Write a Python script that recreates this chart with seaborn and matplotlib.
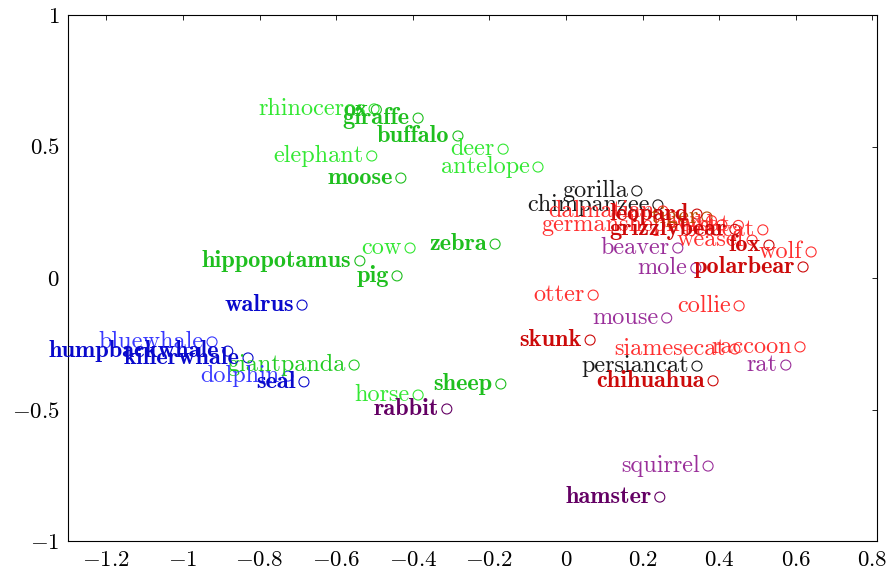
import matplotlib
matplotlib.use("Agg")
import matplotlib.pyplot as plt
from matplotlib.ticker import FuncFormatter
import seaborn as sns
import pandas as pd

# ---- data ----
names = ["rhinoceros", "elephant", "deer", "antelope", "cow", "horse",
         "ox", "giraffe", "buffalo", "moose", "zebra", "hippopotamus", "pig", "giantpanda", "sheep",
         "bluewhale", "dolphin",
         "humpbackwhale", "killerwhale", "seal", "walrus",
         "beaver", "mole", "mouse", "rat", "squirrel",
         "rabbit", "hamster",
         "gorilla", "chimpanzee", "persiancat",
         "otter", "collie", "siamesecat", "raccoon", "dalmatian", "germanshepherd", "bobcat", "bat",
         "weasel", "wolf", "lion",
         "tiger",
         "skunk", "chihuahua", "leopard", "grizzlybear", "fox", "polarbear"]
xs = [-0.501, -0.507, -0.164, -0.073, -0.407, -0.386,
      -0.495, -0.386, -0.282, -0.431, -0.185, -0.538, -0.441, -0.553, -0.170,
      -0.924, -0.726,
      -0.883, -0.830, -0.684, -0.689,
      0.292, 0.339, 0.263, 0.574, 0.371,
      -0.311, 0.245,
      0.185, 0.240, 0.342,
      0.071, 0.452, 0.441, 0.611, 0.253, 0.407, 0.514, 0.450,
      0.486, 0.640, 0.380,
      0.368,
      0.063, 0.384, 0.342, 0.441, 0.530, 0.619]
ys = [0.643, 0.464, 0.490, 0.422, 0.114, -0.445,
      0.640, 0.608, 0.540, 0.380, 0.129, 0.065, 0.008, -0.331, -0.403,
      -0.243, -0.373,
      -0.278, -0.304, -0.395, -0.103,
      0.114, 0.038, -0.152, -0.331, -0.715,
      -0.498, -0.833,
      0.331, 0.278, -0.335,
      -0.065, -0.106, -0.270, -0.262, 0.255, 0.202, 0.183, 0.200,
      0.144, 0.099, 0.218,
      0.232,
      -0.236, -0.391, 0.243, 0.185, 0.125, 0.042]
groups = (["lightgreen"] * 6 + ["darkgreen"] * 7 + ["midgreen"] + ["darkgreen"]
          + ["lightblue"] * 2 + ["darkblue"] * 4
          + ["lightpurple"] * 5 + ["darkpurple"] * 2
          + ["black"] * 3
          + ["lightred"] * 11
          + ["brown"]
          + ["darkred"] * 6)

xticks = [-1.2, -1, -0.8, -0.6, -0.4, -0.2, 0, 0.2, 0.4, 0.6, 0.8]
yticks = [-1, -0.5, 0, 0.5, 1]

# ---- styles ----
palette = {"lightgreen": "#33e833", "darkgreen": "#1fbf1f", "midgreen": "#22cc22",
           "lightblue": "#3838ff", "darkblue": "#0a0acc",
           "lightpurple": "#9a2f9a", "darkpurple": "#640064",
           "black": "#1a1a1a",
           "lightred": "#ff3030", "darkred": "#cc0a0a", "brown": "#b84a00"}
bold_groups = {"darkgreen", "darkblue", "darkpurple", "darkred"}

df = pd.DataFrame({"name": names, "x": xs, "y": ys, "group": groups})

sns.set_theme(style="white")
plt.rcParams["font.family"] = ["cmr10"]
plt.rcParams["mathtext.fontset"] = "cm"
plt.rcParams["axes.formatter.use_mathtext"] = True

fig = plt.figure(figsize=(8.89, 5.72), dpi=100)
ax = fig.add_axes([68 / 889, 31 / 572, (877 - 68) / 889, (557 - 31) / 572])

sns.scatterplot(data=df, x="x", y="y", hue="group", palette=palette, s=52,
                marker="o", linewidth=0.8, legend=False, ax=ax)
coll = ax.collections[0]
fc = coll.get_facecolors()
coll.set_edgecolors(fc)
coll.set_facecolors("none")

for n, x, y, g in zip(names, xs, ys, groups):
    fam = "cmb10" if g in bold_groups else "cmr10"
    ax.annotate(n, (x, y), xytext=(-6, 0), textcoords="offset points",
                ha="right", va="center", fontsize=17.5, color=palette[g],
                family=fam)

ax.set_xlim(-1.3, 0.812)
ax.set_ylim(-1, 1)
ax.set_xticks(xticks)
ax.set_yticks(yticks)
fmt = FuncFormatter(lambda v, p: "$%s$" % ("%g" % round(v, 3)))
ax.xaxis.set_major_formatter(fmt)
ax.yaxis.set_major_formatter(fmt)
ax.set_xlabel("")
ax.set_ylabel("")
for sp in ax.spines.values():
    sp.set_color("black")
    sp.set_linewidth(0.8)
ax.tick_params(direction="in", length=3.5, width=0.6, top=True, right=True,
               labelsize=16.5, colors="black", pad=6)
ax.tick_params(axis="x", pad=7)

fig.savefig("out.png", dpi=100)
